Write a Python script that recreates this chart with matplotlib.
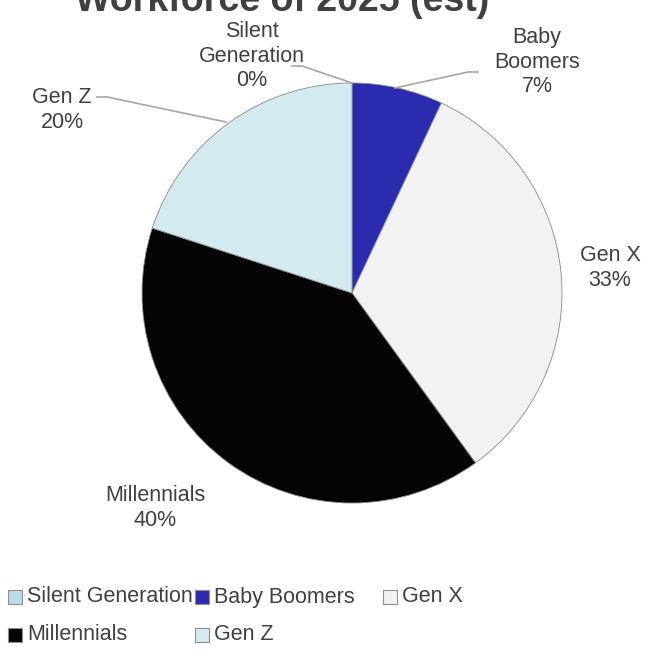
import matplotlib.pyplot as plt
import numpy as np

# data
categories = ['Silent Generation', 'Baby Boomers', 'Gen X', 'Millennials', 'Gen Z']
shares = [0, 7, 33, 40, 20]
colors = ['#b9dde0', '#2b2bb0', '#f2f2f2', '#050505', '#d3ebee']

plt.rcParams['font.family'] = ['Liberation Sans', 'DejaVu Sans']

W, H = 656, 650
fig = plt.figure(figsize=(W / 100, H / 100), dpi=100)
ax = fig.add_axes([0, 0, 1, 1])

cx, cy, r = 352, H - 293, 210
wedges, _ = ax.pie(shares, colors=colors, startangle=90, counterclock=False,
                   center=(cx, cy), radius=r, frame=True,
                   wedgeprops=dict(edgecolor='#8a8a8a', linewidth=0.6))
ax.set_xlim(0, W)
ax.set_ylim(0, H)
ax.set_aspect('equal')
ax.axis('off')

txt = '#404040'
fs = 15.5

def label(i, x, y, name):
    ax.text(x, H - y, f'{name}\n{shares[i]}%', ha='center', va='center',
            fontsize=fs, color=txt, linespacing=1.2)

label(0, 252, 56, 'Silent\nGeneration')
label(1, 537, 62, 'Baby\nBoomers')
label(2, 610, 268, 'Gen X')
label(3, 155, 508, 'Millennials')
label(4, 62, 110, 'Gen Z')

# leader lines
lc = '#a6a6a6'
ax.plot([292, 302, 352], [H - 66, H - 66, H - 83], color=lc, lw=1.2)
ax.plot([478, 468, 395], [H - 72, H - 72, H - 88], color=lc, lw=1.2)
ax.plot([97, 107, 226], [H - 97, H - 97, H - 122], color=lc, lw=1.2)

# title (partly cut off at the top, like the source)
ax.text(282, H - 11, 'Workforce of 2025 (est)', ha='center', va='baseline',
        fontsize=27, fontweight='bold', color=txt, clip_on=False)

# legend
row1 = [(8, 0), (195, 1), (383, 2)]
row2 = [(8, 3), (195, 4)]
for y, row in [(597, row1), (635, row2)]:
    for x, i in row:
        ax.scatter([x + 7], [H - y], marker='s', s=100, color=colors[i],
                   edgecolors='#8f8f8f', linewidths=0.8)
        ax.text(x + 19, H - y, categories[i], ha='left', va='center',
                fontsize=fs, color=txt)

fig.savefig('out.png', dpi=100)
